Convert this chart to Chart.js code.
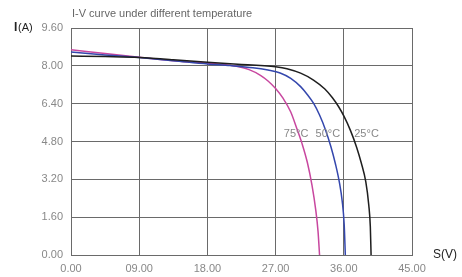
<!DOCTYPE html>
<html>
<head>
<meta charset="utf-8">
<script src="https://cdn.jsdelivr.net/npm/chart.js@4"></script>
<style>
  body { margin: 0; background: #fff; }
  #wrap { width: 462px; height: 277px; }
</style>
</head>
<body>
<div id="wrap"><canvas id="ivChart"></canvas></div>
<script>
// tick labels
var xTickLabels = ["0.00", "09.00", "18.00", "27.00", "36.00", "45.00"];
var yTickLabels = ["0.00", "1.60", "3.20", "4.80", "6.40", "8.00", "9.60"];

// 25 C (black)
var volt25 = [0, 4.5, 9, 13.5, 18, 22.5, 25, 27, 28.5, 30.3, 32, 33.5, 34.5, 35.3, 36, 36.9, 37.7, 38.3, 38.9, 39.3, 39.5, 39.6];
var amp25  = [8.42, 8.39, 8.35, 8.26, 8.15, 8.06, 8.01, 7.96, 7.88, 7.69, 7.40, 7.02, 6.65, 6.28, 5.88, 5.25, 4.55, 3.90, 3.10, 2.10, 1.20, 0];

// 50 C (blue)
var volt50 = [0, 4.5, 9, 13.5, 18, 21, 24, 26, 27.6, 29, 30.3, 31.2, 32, 32.8, 33.6, 34.3, 34.9, 35.4, 35.8, 36.05, 36.2];
var amp50  = [8.58, 8.46, 8.35, 8.22, 8.08, 8.01, 7.92, 7.82, 7.70, 7.47, 7.12, 6.78, 6.42, 5.92, 5.28, 4.58, 3.85, 3.10, 2.25, 1.30, 0];

// 75 C (pink)
var volt75 = [0, 4.5, 9, 13.5, 18, 20, 22, 23.5, 25, 26, 27, 28, 29, 29.8, 30.5, 31.2, 31.8, 32.3, 32.6, 32.8];
var amp75  = [8.68, 8.52, 8.36, 8.22, 8.11, 8.06, 7.97, 7.84, 7.60, 7.36, 7.04, 6.62, 6.05, 5.35, 4.70, 3.90, 2.95, 1.90, 1.00, 0];

var seriesNames = ["25\u00B0C", "50\u00B0C", "75\u00B0C"];

function toPoints(xs, ys) {
    var pts = [];
    for (var i = 0; i < xs.length; i++) {
        pts.push({ x: xs[i], y: ys[i] });
    }
    return pts;
}

var fontFamily = "'Liberation Sans', Arial, sans-serif";

var textPlugin = {
    id: 'texts',
    afterDraw: function (chart) {
        var ctx = chart.ctx;
        var xs = chart.scales.x, ys = chart.scales.y;
        ctx.save();
        ctx.textBaseline = 'middle';

        ctx.fillStyle = '#666';
        ctx.font = '11px ' + fontFamily;
        ctx.textAlign = 'left';
        ctx.fillText('I-V curve under different temperature', 72, 14);

        ctx.fillStyle = '#222';
        ctx.font = 'bold 12px ' + fontFamily;
        ctx.fillText('I', 14, 28);
        ctx.font = '11px ' + fontFamily;
        ctx.fillText('(A)', 18, 28);

        ctx.font = '12px ' + fontFamily;
        ctx.fillText('S(V)', 433, 255);

        // temperature labels next to curves
        ctx.fillStyle = '#888';
        ctx.font = '11px ' + fontFamily;
        ctx.textAlign = 'center';
        var labelY = ys.getPixelForValue(5.1);
        ctx.fillText(seriesNames[2], xs.getPixelForValue(29.7), labelY);
        ctx.fillText(seriesNames[1], xs.getPixelForValue(33.9), labelY);
        ctx.fillText(seriesNames[0], xs.getPixelForValue(39.0), labelY);
        ctx.restore();
    }
};

var chart = new Chart(document.getElementById('ivChart').getContext('2d'), {
    type: 'line',
    data: {
        datasets: [{
            label: seriesNames[0],
            data: toPoints(volt25, amp25),
            borderColor: '#1e1e1e',
            borderWidth: 1.5,
            pointRadius: 0,
            cubicInterpolationMode: 'monotone'
        }, {
            label: seriesNames[1],
            data: toPoints(volt50, amp50),
            borderColor: '#3447ad',
            borderWidth: 1.5,
            pointRadius: 0,
            cubicInterpolationMode: 'monotone'
        }, {
            label: seriesNames[2],
            data: toPoints(volt75, amp75),
            borderColor: '#c8479f',
            borderWidth: 1.5,
            pointRadius: 0,
            cubicInterpolationMode: 'monotone'
        }]
    },
    options: {
        responsive: true,
        maintainAspectRatio: false,
        animation: false,
        layout: { padding: { top: 28, right: 50, left: 0, bottom: 0 } },
        plugins: {
            legend: { display: false },
            tooltip: { enabled: false }
        },
        scales: {
            x: {
                type: 'linear',
                min: 0,
                max: 45,
                afterFit: function (scale) { scale.height = 22; },
                ticks: {
                    stepSize: 9,
                    color: '#888',
                    padding: 7,
                    font: { family: fontFamily, size: 11 },
                    maxRotation: 0,
                    callback: function (v) { return xTickLabels[Math.round(v / 9)]; }
                },
                grid: { color: '#6a6a6a', drawTicks: false },
                border: { color: '#6a6a6a' }
            },
            y: {
                min: 0,
                max: 9.6,
                afterFit: function (scale) { scale.width = 71; },
                ticks: {
                    stepSize: 1.6,
                    color: '#888',
                    padding: 8,
                    font: { family: fontFamily, size: 11 },
                    callback: function (v) { return yTickLabels[Math.round(v / 1.6)]; }
                },
                grid: { color: '#6a6a6a', drawTicks: false },
                border: { color: '#6a6a6a' }
            }
        }
    },
    plugins: [textPlugin]
});
</script>
</body>
</html>
